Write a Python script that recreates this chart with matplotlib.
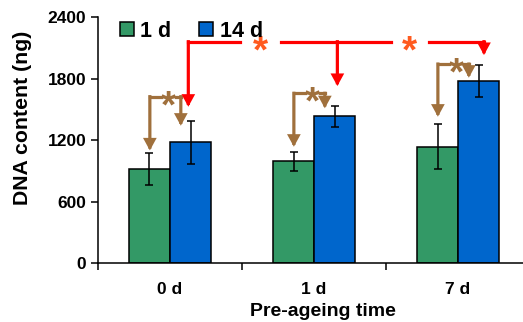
import numpy as np
import matplotlib.pyplot as plt
from matplotlib.patches import Patch

plt.rcParams['font.family'] = ['Liberation Sans', 'DejaVu Sans']
plt.rcParams['font.weight'] = 'bold'

# datos
categories = ['0 d', '1 d', '7 d']
series = ['1 d', '14 d']
dna_1d = [925, 995, 1140]
err_1d = [155, 90, 220]
dna_14d = [1180, 1435, 1780]
err_14d = [210, 103, 155]

# niveles de las anotaciones
brown_top = [1626, 1659, 1944]
brown_tip_left = [1102, 1138, 1431]
brown_tip_right = [1343, 1513, 1811]
red_level = 2162
red_tips = [1528, 1730, 2032]

green = '#339966'
blue = '#0066CC'
brown = '#A0703C'
red = '#FF0000'
star_red = '#FF5A1F'

fig = plt.figure(figsize=(5.23, 3.22), dpi=100)
ax = fig.add_axes([0.1874, 0.1817, 0.8126, 0.7646])

x = np.arange(len(categories))
w = 0.285
ekw = dict(elinewidth=1.1, capthick=1.1, ecolor='black')
ax.bar(x - w / 2, dna_1d, w, yerr=err_1d, color=green, edgecolor='black',
       linewidth=1.1, capsize=3, error_kw=ekw, zorder=2)
ax.bar(x + w / 2, dna_14d, w, yerr=err_14d, color=blue, edgecolor='black',
       linewidth=1.1, capsize=3, error_kw=ekw, zorder=2)

ax.set_xlim(-0.5, 2.451)
ax.set_ylim(0, 2400)
ax.set_yticks([0, 600, 1200, 1800, 2400])
ax.set_xticks([-0.5, 0.5, 1.5])
ax.set_xticklabels([])
ax.set_xticks(x, minor=True)
ax.set_xticklabels(categories, minor=True)
ax.tick_params(axis='x', which='minor', length=0, pad=13, labelsize=12.5)
ax.tick_params(axis='x', which='major', length=5, width=1.1, direction='out')
ax.tick_params(axis='y', length=5, width=1.1, direction='out', labelsize=12.5)
for s in ['top', 'right']:
    ax.spines[s].set_visible(False)
for s in ['left', 'bottom']:
    ax.spines[s].set_linewidth(1.1)

ax.set_ylabel('DNA content (ng)', fontsize=15.3, fontweight='bold')
ax.yaxis.set_label_coords(-0.155, 0.593)
ax.set_xlabel('Pre-ageing time', fontsize=14, fontweight='bold')
ax.xaxis.set_label_coords(0.529, -0.16)

lw = 2.3
arrow = dict(arrowstyle='-|>,head_length=0.55,head_width=0.3', lw=lw,
             shrinkA=0, shrinkB=0, joinstyle='miter', capstyle='projecting')
star_fs = 28


def star(xs, ys, color):
    # asterisco un poco por debajo de la linea
    ax.annotate('*', (xs, ys), xytext=(0, -0.53 * star_fs), textcoords='offset points',
                color=color, fontsize=star_fs, fontweight='bold',
                ha='center', va='baseline')


# corchetes marrones entre 1 d y 14 d
xl, xr, xs = -0.14, 0.075, -0.01
for i in range(len(categories)):
    a = x[i] + xl
    b = x[i] + xr
    m = x[i] + xs
    ax.plot([a, m - 0.05], [brown_top[i]] * 2, color=brown, lw=lw,
            solid_capstyle='projecting')
    ax.plot([m + 0.05, b], [brown_top[i]] * 2, color=brown, lw=lw,
            solid_capstyle='projecting')
    ax.annotate('', xy=(a, brown_tip_left[i]), xytext=(a, brown_top[i]),
                arrowprops=dict(arrow, color=brown))
    ax.annotate('', xy=(b, brown_tip_right[i]), xytext=(b, brown_top[i]),
                arrowprops=dict(arrow, color=brown))
    star(m, brown_top[i], brown)

# linea roja entre tiempos de pre-envejecimiento
red_x = [0.127, 1.162, 2.18]
gaps = [(0.486, 0.771), (1.533, 1.799)]
segs = [(red_x[0], gaps[0][0]), (gaps[0][1], gaps[1][0]), (gaps[1][1], red_x[2])]
for s0, s1 in segs:
    ax.plot([s0, s1], [red_level] * 2, color=red, lw=lw, solid_capstyle='projecting')
for rx, tip in zip(red_x, red_tips):
    ax.annotate('', xy=(rx, tip), xytext=(rx, red_level),
                arrowprops=dict(arrow, color=red))
for g0, g1 in gaps:
    star((g0 + g1) / 2, red_level, star_red)

handles = [Patch(facecolor=green, edgecolor='black', linewidth=1.1),
           Patch(facecolor=blue, edgecolor='black', linewidth=1.1)]
ax.legend(handles, series, loc='upper left', bbox_to_anchor=(0.005, 1.065),
          ncol=2, frameon=False, handlelength=0.65, handleheight=0.65,
          handletextpad=0.3, columnspacing=1.3,
          prop={'size': 15.5, 'weight': 'bold'})

fig.savefig('out.png', dpi=100)
